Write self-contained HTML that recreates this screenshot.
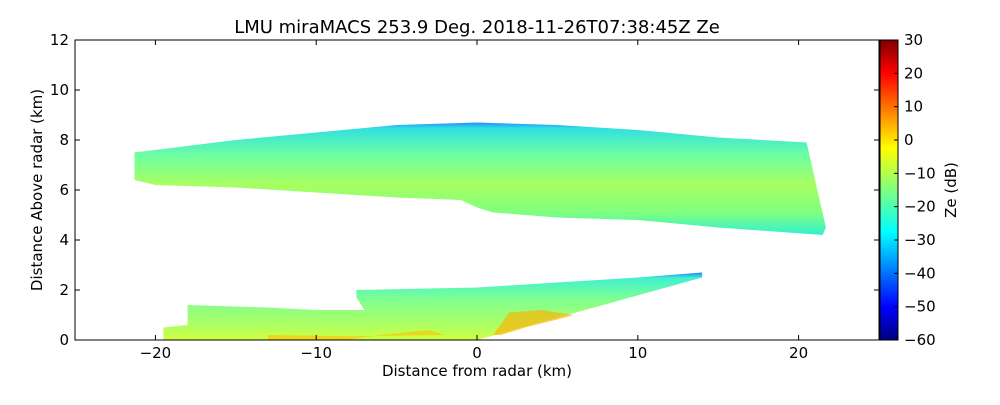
<!DOCTYPE html>
<html><head><meta charset="utf-8"><style>
body{margin:0;background:#fff;}
svg text{font-family:"DejaVu Sans","Liberation Sans",sans-serif;}
</style></head><body>
<svg id="chart" width="1000" height="400" xmlns="http://www.w3.org/2000/svg">
<defs>
<linearGradient id="jet" x1="0" y1="1" x2="0" y2="0">
<stop offset="0" stop-color="#00007f"/><stop offset="0.11" stop-color="#0000ff"/>
<stop offset="0.36" stop-color="#00ffff"/><stop offset="0.64" stop-color="#ffff00"/>
<stop offset="0.89" stop-color="#ff0000"/><stop offset="1" stop-color="#7f0000"/>
</linearGradient>
<linearGradient id="upperFill" x1="0" y1="0" x2="0" y2="1">
<stop offset="0" stop-color="#2090ff"/><stop offset="0.05" stop-color="#30e0e0"/>
<stop offset="0.3" stop-color="#70ffa0"/><stop offset="0.55" stop-color="#a8ff60"/>
<stop offset="0.8" stop-color="#80ff80"/><stop offset="1" stop-color="#30f0d0"/>
</linearGradient>
<linearGradient id="lowerFill" x1="0" y1="0" x2="0" y2="1">
<stop offset="0" stop-color="#2080ff"/><stop offset="0.08" stop-color="#40f0d0"/>
<stop offset="0.4" stop-color="#80ff90"/><stop offset="0.8" stop-color="#b0ff60"/>
<stop offset="1" stop-color="#d0ff40"/>
</linearGradient>
</defs>
<g id="plot"></g>
</svg>
<script>
const xTicks=[-20,-10,0,10,20];
const yTicks=[0,2,4,6,8,10,12];
const cTicks=[30,20,10,0,-10,-20,-30,-40,-50,-60];
const upperX=[-21.3,-15,-10,-5,0,5,10,15,20.5,21.7,21.5,15,10,5,1,0,-1,-5,-10,-15,-20,-21.3];
const upperY=[7.5,8.0,8.3,8.6,8.7,8.6,8.4,8.1,7.9,4.5,4.2,4.5,4.8,4.9,5.1,5.3,5.6,5.7,5.9,6.1,6.2,6.4];
const lowerX=[-19.5,0,14,14,10,5,0,-7.5,-7.5,-7,-10,-13,-18,-18,-19.5];
const lowerY=[0,0,2.5,2.7,2.5,2.3,2.1,2.0,1.7,1.2,1.2,1.3,1.4,0.6,0.5];
const hotX=[1,2,4,6,5.5,3,1.5];
const hotY=[0.2,1.1,1.2,1.0,0.9,0.5,0.2];
const warmX=[-13,-8,-6,-3,-2,-8,-13];
const warmY=[0.02,0.02,0.2,0.4,0.2,0.15,0.2];
const X0=75,X1=879,Y0=340,Y1=40;
const sx=v=>X0+(v+25)/50*(X1-X0);
const sy=v=>Y0-v/12*(Y0-Y1);
const sc=v=>Y0-(v+60)/90*(Y0-Y1);
const NS="http://www.w3.org/2000/svg";
const g=document.getElementById('plot');
function mk(t,a,txt){const e=document.createElementNS(NS,t);for(const k in a)e.setAttribute(k,a[k]);if(txt!==undefined)e.textContent=txt;g.appendChild(e);return e;}
function poly(xs,ys){return xs.map((x,i)=>sx(x).toFixed(1)+','+sy(ys[i]).toFixed(1)).join(' ');}
let p=mk('polygon',{points:poly(upperX,upperY),fill:'url(#upperFill)'});


p=mk('polygon',{points:poly(lowerX,lowerY),fill:'url(#lowerFill)'});


p=mk('polygon',{points:poly(hotX,hotY),fill:'#ffb000',opacity:0.65});


p=mk('polygon',{points:poly(warmX,warmY),fill:'#ffc000',opacity:0.6});


p=mk('rect',{x:X0,y:Y1,width:X1-X0,height:Y0-Y1,fill:'none',stroke:'#000','stroke-width':1});


xTicks.forEach(v=>{const x=sx(v);
 mk('line',{x1:x,y1:Y0,x2:x,y2:Y0-5,stroke:'#000'});mk('line',{x1:x,y1:Y1,x2:x,y2:Y1+5,stroke:'#000'});
 const t=mk('text',{x:x,y:358,'font-size':15,'text-anchor':'middle'},v<0?'\u2212'+(-v):String(v));
 
 });
yTicks.forEach(v=>{const y=sy(v);
 mk('line',{x1:X0,y1:y,x2:X0+5,y2:y,stroke:'#000'});mk('line',{x1:X1,y1:y,x2:X1-5,y2:y,stroke:'#000'});
 const t=mk('text',{x:X0-6,y:y+5,'font-size':15,'text-anchor':'end'},String(v));
 
 });
p=mk('rect',{x:880,y:40,width:18,height:300,fill:'url(#jet)',stroke:'#000'});


cTicks.forEach(v=>{const y=sc(v);
 mk('line',{x1:894,y1:y,x2:898,y2:y,stroke:'#000'});
 const t=mk('text',{x:904,y:y+5,'font-size':15},v<0?'\u2212'+(-v):String(v));
 
 });
let t=mk('text',{x:477,y:33,'font-size':18,'text-anchor':'middle'},'LMU miraMACS 253.9 Deg. 2018-11-26T07:38:45Z  Ze');


t=mk('text',{x:477,y:376,'font-size':15,'text-anchor':'middle'},'Distance from radar (km)');


t=mk('text',{x:42,y:190,'font-size':15,'text-anchor':'middle',transform:'rotate(-90 42 190)'},'Distance Above radar  (km)');


t=mk('text',{x:956,y:190,'font-size':15,'text-anchor':'middle',transform:'rotate(-90 956 190)'},'Ze (dB)');


</script>
</body></html>
